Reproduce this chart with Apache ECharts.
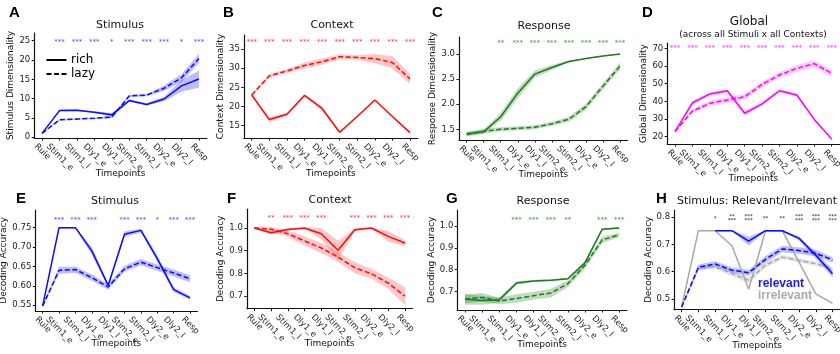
<!DOCTYPE html>
<html>
<head>
<meta charset="utf-8">
<script src="https://cdn.jsdelivr.net/npm/echarts@6/dist/echarts.min.js"></script>
<style>
  html, body { margin: 0; padding: 0; background: #fff; }
  #chart { width: 840px; height: 354px; }
</style>
</head>
<body>
<div id="chart"></div>
<script>
const timepoints = ['Rule', 'Stim1_e', 'Stim1_l', 'Dly1_e', 'Dly1_l', 'Stim2_e', 'Stim2_l', 'Dly2_e', 'Dly2_l', 'Resp']

// A - stimulus dimensionality
const stimDimRich = [1.0, 6.9, 7.0, 6.5, 5.8, 9.5, 8.5, 9.9, 13.3, 15.1]
const stimDimRichErr = [0.1, 0.2, 0.2, 0.2, 0.5, 0.3, 0.3, 0.6, 1.5, 2.2]
const stimDimLazy = [1.0, 4.5, 4.7, 4.9, 5.2, 10.7, 10.9, 12.7, 15.4, 20.4]
const stimDimLazyErr = [0.1, 0.2, 0.2, 0.2, 0.3, 0.3, 0.3, 0.7, 1.0, 1.2]
const stimDimStars = ['', '***', '***', '***', '*', '***', '***', '***', '*', '***']

// B - context dimensionality
const ctxDimRich = [23.0, 16.6, 18.0, 22.9, 19.5, 13.3, 17.4, 21.7, 17.4, 13.2]
const ctxDimRichErr = [0.2, 0.6, 0.4, 0.3, 0.5, 0.3, 0.2, 0.2, 0.2, 0.2]
const ctxDimLazy = [23.0, 28.0, 29.3, 30.7, 31.7, 33.0, 32.8, 32.5, 31.5, 27.2]
const ctxDimLazyErr = [0.3, 0.5, 0.5, 0.8, 0.8, 0.6, 0.6, 1.2, 1.6, 1.3]
const ctxDimStars = ['***', '***', '***', '***', '***', '***', '***', '***', '***', '***']

// C - response dimensionality
const respDimRich = [1.41, 1.45, 1.75, 2.22, 2.60, 2.73, 2.85, 2.91, 2.96, 3.0]
const respDimRichErr = [0.04, 0.04, 0.08, 0.1, 0.07, 0.05, 0.02, 0.01, 0.01, 0.01]
const respDimLazy = [1.40, 1.46, 1.50, 1.52, 1.54, 1.61, 1.70, 1.95, 2.36, 2.76]
const respDimLazyErr = [0.04, 0.05, 0.04, 0.04, 0.04, 0.04, 0.05, 0.06, 0.06, 0.07]
const respDimStars = ['', '', '**', '***', '***', '***', '***', '***', '***', '***']

// D - global dimensionality
const globDimRich = [23.0, 39.2, 44.2, 46.0, 33.3, 38.6, 46.0, 43.6, 29.8, 18.7]
const globDimRichErr = [0.5, 1.2, 1.0, 1.3, 1.2, 1.0, 1.0, 1.0, 0.6, 0.5]
const globDimLazy = [23.0, 34.5, 38.9, 40.8, 42.6, 49.6, 54.9, 58.7, 61.3, 55.9]
const globDimLazyErr = [0.5, 1.0, 1.4, 1.6, 1.6, 1.6, 1.6, 1.8, 2.0, 1.8]
const globDimStars = ['***', '***', '***', '***', '***', '***', '***', '***', '***', '***']

// E - stimulus decoding
const stimDecRich = [0.548, 0.750, 0.750, 0.690, 0.601, 0.733, 0.743, 0.670, 0.590, 0.569]
const stimDecRichErr = [0.002, 0.002, 0.002, 0.010, 0.005, 0.007, 0.005, 0.008, 0.006, 0.005]
const stimDecLazy = [0.548, 0.640, 0.642, 0.621, 0.597, 0.644, 0.661, 0.647, 0.633, 0.618]
const stimDecLazyErr = [0.002, 0.009, 0.008, 0.008, 0.007, 0.008, 0.008, 0.008, 0.009, 0.009]
const stimDecStars = ['', '***', '***', '***', '', '***', '***', '*', '***', '***']

// F - context decoding
const ctxDecRich = [1.0, 0.979, 0.994, 1.0, 0.975, 0.902, 0.992, 1.0, 0.963, 0.934]
const ctxDecRichErr = [0.002, 0.008, 0.005, 0.002, 0.025, 0.042, 0.006, 0.002, 0.025, 0.012]
const ctxDecLazy = [1.0, 0.995, 0.975, 0.943, 0.912, 0.872, 0.825, 0.798, 0.757, 0.699]
const ctxDecLazyErr = [0.003, 0.01, 0.015, 0.02, 0.022, 0.022, 0.025, 0.022, 0.025, 0.04]
const ctxDecStars = ['', '**', '***', '***', '***', '', '***', '***', '***', '***']

// G - response decoding
const respDecRich = [0.663, 0.658, 0.661, 0.738, 0.748, 0.751, 0.758, 0.832, 0.986, 0.992]
const respDecRichErr = [0.025, 0.02, 0.012, 0.008, 0.005, 0.005, 0.005, 0.01, 0.005, 0.004]
const respDecLazy = [0.665, 0.672, 0.655, 0.667, 0.680, 0.692, 0.735, 0.820, 0.937, 0.961]
const respDecLazyErr = [0.02, 0.02, 0.015, 0.02, 0.018, 0.02, 0.015, 0.015, 0.015, 0.01]
const respDecStars = ['', '', '', '***', '***', '***', '**', '', '***', '***']

// H - relevant / irrelevant stimulus decoding
const relRich = [null, null, 0.75, 0.75, 0.712, 0.75, 0.75, 0.722, 0.66, 0.592]
const relRichErr = [0, 0, 0.002, 0.002, 0.016, 0.002, 0.002, 0.008, 0.012, 0.014]
const relLazy = [0.47, 0.616, 0.628, 0.605, 0.596, 0.645, 0.683, 0.677, 0.667, 0.643]
const relLazyErr = [0.002, 0.01, 0.01, 0.01, 0.01, 0.012, 0.012, 0.012, 0.012, 0.01]
const irrRich = [0.47, 0.75, 0.75, 0.695, 0.535, 0.75, 0.75, 0.635, 0.518, 0.483]
const irrRichErr = [0, 0, 0, 0, 0, 0, 0, 0, 0, 0]
const irrLazy = [0.47, 0.611, 0.617, 0.593, 0.568, 0.624, 0.653, 0.641, 0.629, 0.611]
const irrLazyErr = [0.002, 0.008, 0.008, 0.01, 0.012, 0.01, 0.008, 0.008, 0.008, 0.008]
const relStars = ['', '', '*', '**\n***', '***\n***', '**', '**', '***\n***', '***\n***', '***\n***']

const FONT = 'DejaVu Sans'
const BLUE = '#0a0aff'
const RED = '#ff0a0a'
const GREEN = '#1f7a1f'
const MAGENTA = '#ff00ff'
const GRAY = '#a8a8a8'

const grids = []
const xAxes = []
const yAxes = []
const series = []

const measureCtx = document.createElement('canvas').getContext('2d')
function textWidth (s, size) {
  measureCtx.font = size + 'px "' + FONT + '"'
  return measureCtx.measureText(s).width
}

function addPanel (p) {
  const k = grids.length
  grids.push({ left: p.left, top: p.top, width: p.width, height: p.height, outerBoundsMode: 'none' })
  xAxes.push({
    gridIndex: k,
    type: 'value',
    min: -0.45,
    max: 9.45,
    name: 'Timepoints',
    nameLocation: 'middle',
    nameGap: p.xNameGap,
    nameTextStyle: { fontSize: 9, fontFamily: FONT, color: '#111' },
    axisLine: { show: true, onZero: false, lineStyle: { color: '#111', width: 1.2 } },
    axisTick: { show: true, customValues: timepoints.map((t, i) => i), length: 2.5, lineStyle: { color: '#111' } },
    axisLabel: { show: false },
    splitLine: { show: false }
  })
  yAxes.push({
    gridIndex: k,
    type: 'value',
    min: p.yMin,
    max: p.yMax,
    name: p.yName,
    nameLocation: 'middle',
    nameGap: p.yNameGap,
    nameTextStyle: { fontSize: 9, fontFamily: FONT, color: '#111' },
    axisLine: { show: true, onZero: false, lineStyle: { color: '#111', width: 1.2 } },
    axisTick: { show: true, customValues: p.yTicks, length: 2.5, lineStyle: { color: '#111' } },
    axisLabel: {
      customValues: p.yTicks,
      formatter: v => Number(v).toFixed(p.dec),
      fontSize: 8.5,
      fontFamily: FONT,
      color: '#222',
      margin: 4
    },
    splitLine: { show: false }
  })

  p.curves.forEach(c => {
    const pts = c.vals.map((v, i) => v == null ? null : [i, v - c.err[i], v + c.err[i]]).filter(Boolean)
    // shaded error band
    series.push({
      type: 'custom',
      xAxisIndex: k,
      yAxisIndex: k,
      silent: true,
      clip: false,
      data: pts,
      encode: { x: 0, y: [1, 2] },
      renderItem (params, api) {
        if (params.dataIndex !== 0) return
        const up = pts.map(d => api.coord([d[0], d[2]]))
        const lo = pts.map(d => api.coord([d[0], d[1]])).reverse()
        return { type: 'polygon', shape: { points: up.concat(lo) }, style: { fill: c.fill } }
      }
    })
    series.push({
      type: 'line',
      xAxisIndex: k,
      yAxisIndex: k,
      silent: true,
      symbol: 'none',
      data: c.vals.map((v, i) => v == null ? null : [i, v]).filter(Boolean),
      lineStyle: { color: c.color, width: 1.5, type: c.dashed ? [5, 2.5] : 'solid' }
    })
  })

  // significance stars
  series.push({
    type: 'custom',
    xAxisIndex: k,
    yAxisIndex: k,
    silent: true,
    clip: false,
    data: p.stars.map((s, i) => s ? [i, p.starY] : null).filter(Boolean),
    encode: { x: 0, y: 1 },
    renderItem (params, api) {
      const i = api.value(0)
      const c = api.coord([i, api.value(1)])
      return {
        type: 'text',
        x: c[0],
        y: c[1] + 1.5,
        style: {
          text: p.stars[i], fill: p.starColor, fontSize: p.starSize || 7, fontFamily: FONT,
          lineHeight: p.starLine || 8, align: 'center', verticalAlign: 'middle',
          textAlign: 'center', textVerticalAlign: 'middle'
        }
      }
    }
  })

  // rotated tick labels, box centred under each tick
  series.push({
    type: 'custom',
    xAxisIndex: k,
    yAxisIndex: k,
    silent: true,
    clip: false,
    data: timepoints.map((t, i) => [i, p.yMin]),
    encode: { x: 0, y: 1 },
    renderItem (params, api) {
      const i = api.value(0)
      const c = api.coord([i, api.value(1)])
      const w = textWidth(timepoints[i], 8.5)
      const shift = 0.7071 * (w - 10) / 2
      return {
        type: 'text',
        x: c[0] - shift,
        y: c[1] + 4,
        rotation: -Math.PI / 4,
        style: {
          text: timepoints[i], fill: '#222', fontSize: 8.5, fontFamily: FONT,
          align: 'left', verticalAlign: 'top', textAlign: 'left', textVerticalAlign: 'top'
        }
      }
    }
  })
}

const BLUE_FILL = 'rgba(20,20,255,0.28)'
const RED_FILL = 'rgba(255,30,30,0.25)'
const GREEN_FILL = 'rgba(40,140,40,0.3)'
const MAGENTA_FILL = 'rgba(255,0,255,0.22)'
const GRAY_FILL = 'rgba(150,150,150,0.25)'

addPanel({
  left: 34.2, top: 33, width: 172.6, height: 105, yMin: -0.2, yMax: 27.0,
  yTicks: [0, 5, 10, 15, 20, 25], dec: 0, yName: 'Stimulus Dimensionality', yNameGap: 14, xNameGap: 31,
  curves: [
    { vals: stimDimLazy, err: stimDimLazyErr, color: BLUE, fill: BLUE_FILL, dashed: true },
    { vals: stimDimRich, err: stimDimRichErr, color: BLUE, fill: BLUE_FILL }
  ],
  stars: stimDimStars, starY: 25, starColor: '#5050ff'
})
addPanel({
  left: 243.8, top: 35, width: 174.1, height: 103, yMin: 11.8, yMax: 38.65,
  yTicks: [15, 20, 25, 30, 35], dec: 0, yName: 'Context Dimensionality', yNameGap: 13, xNameGap: 31,
  curves: [
    { vals: ctxDimLazy, err: ctxDimLazyErr, color: RED, fill: RED_FILL, dashed: true },
    { vals: ctxDimRich, err: ctxDimRichErr, color: RED, fill: RED_FILL }
  ],
  stars: ctxDimStars, starY: 37.2, starColor: '#ff4040'
})
addPanel({
  left: 459.0, top: 37, width: 168.7, height: 103, yMin: 1.287, yMax: 3.339,
  yTicks: [1.5, 2.0, 2.5, 3.0], dec: 1, yName: 'Response Dimensionality', yNameGap: 16, xNameGap: 30,
  curves: [
    { vals: respDimLazy, err: respDimLazyErr, color: GREEN, fill: GREEN_FILL, dashed: true },
    { vals: respDimRich, err: respDimRichErr, color: GREEN, fill: GREEN_FILL }
  ],
  stars: respDimStars, starY: 3.245, starColor: '#3a9a3a'
})
addPanel({
  left: 667.2, top: 43, width: 172.3, height: 101, yMin: 15.9, yMax: 73.0,
  yTicks: [20, 30, 40, 50, 60, 70], dec: 0, yName: 'Global Dimensionality', yNameGap: 15, xNameGap: 30,
  curves: [
    { vals: globDimLazy, err: globDimLazyErr, color: MAGENTA, fill: MAGENTA_FILL, dashed: true },
    { vals: globDimRich, err: globDimRichErr, color: MAGENTA, fill: MAGENTA_FILL }
  ],
  stars: globDimStars, starY: 70.9, starColor: '#ff30ff'
})
addPanel({
  left: 35.3, top: 210, width: 162.1, height: 101, yMin: 0.535, yMax: 0.7956,
  yTicks: [0.55, 0.60, 0.65, 0.70, 0.75], dec: 2, yName: 'Decoding Accuracy', yNameGap: 19, xNameGap: 28,
  curves: [
    { vals: stimDecLazy, err: stimDecLazyErr, color: BLUE, fill: BLUE_FILL, dashed: true },
    { vals: stimDecRich, err: stimDecRichErr, color: BLUE, fill: BLUE_FILL }
  ],
  stars: stimDecStars, starY: 0.773, starColor: '#5050ff'
})
addPanel({
  left: 246.8, top: 209, width: 165.7, height: 99.7, yMin: 0.644, yMax: 1.084,
  yTicks: [0.7, 0.8, 0.9, 1.0], dec: 1, yName: 'Decoding Accuracy', yNameGap: 15, xNameGap: 30,
  curves: [
    { vals: ctxDecLazy, err: ctxDecLazyErr, color: RED, fill: RED_FILL, dashed: true },
    { vals: ctxDecRich, err: ctxDecRichErr, color: RED, fill: RED_FILL }
  ],
  stars: ctxDecStars, starY: 1.048, starColor: '#ff4040'
})
addPanel({
  left: 457.3, top: 210, width: 169.7, height: 100, yMin: 0.614, yMax: 1.075,
  yTicks: [0.7, 0.8, 0.9, 1.0], dec: 1, yName: 'Decoding Accuracy', yNameGap: 13, xNameGap: 30,
  curves: [
    { vals: respDecLazy, err: respDecLazyErr, color: GREEN, fill: GREEN_FILL, dashed: true },
    { vals: respDecRich, err: respDecRichErr, color: GREEN, fill: GREEN_FILL }
  ],
  stars: respDecStars, starY: 1.035, starColor: '#3a9a3a'
})
addPanel({
  left: 674.1, top: 210, width: 166, height: 99.7, yMin: 0.46, yMax: 0.826,
  yTicks: [0.5, 0.6, 0.7, 0.8], dec: 1, yName: 'Decoding Accuracy', yNameGap: 15, xNameGap: 31,
  curves: [
    { vals: irrLazy, err: irrLazyErr, color: GRAY, fill: GRAY_FILL, dashed: true },
    { vals: irrRich, err: irrRichErr, color: GRAY, fill: GRAY_FILL },
    { vals: relLazy, err: relLazyErr, color: BLUE, fill: BLUE_FILL, dashed: true },
    { vals: relRich, err: relRichErr, color: BLUE, fill: BLUE_FILL }
  ],
  stars: relStars, starY: 0.80, starColor: '#111', starSize: 5.5, starLine: 3.5
})

function label (x, y, text, size, opts) {
  const o = opts || {}
  return {
    type: 'text', x, y, silent: true,
    style: {
      text, fontSize: size, fontFamily: o.family || FONT, fontWeight: o.weight || 'normal', fill: o.color || '#111',
      align: o.align || 'center', verticalAlign: o.valign || 'top',
      textAlign: o.align || 'center', textVerticalAlign: o.valign || 'top'
    }
  }
}
function legendLine (y, dash) {
  return {
    type: 'line', silent: true,
    shape: { x1: 46.5, y1: y, x2: 66.5, y2: y },
    style: { stroke: '#000', lineWidth: 2, lineDash: dash || null }
  }
}
const letter = { family: 'Liberation Sans', weight: 'bold', color: '#000', align: 'left' }

const graphics = [
  label(9, 5, 'A', 15, letter),
  label(223, 5, 'B', 15, letter),
  label(432, 5, 'C', 15, letter),
  label(642, 5, 'D', 15, letter),
  label(16, 191, 'E', 15, letter),
  label(227, 191, 'F', 15, letter),
  label(446, 191, 'G', 15, letter),
  label(656, 191, 'H', 15, letter),
  label(120, 20, 'Stimulus', 11),
  label(332, 20, 'Context', 11),
  label(544, 21, 'Response', 11),
  label(749, 16, 'Global', 12),
  label(753, 30.5, '(across all Stimuli x all Contexts)', 9),
  label(115, 195.5, 'Stimulus', 11),
  label(330, 194.5, 'Context', 11),
  label(543, 195.5, 'Response', 11),
  label(677, 195.5, 'Stimulus: Relevant/Irrelevant', 11, { align: 'left' }),
  label(758, 278, 'relevant', 12, { family: 'Liberation Sans', weight: 'bold', color: '#1a1aff', align: 'left' }),
  label(758, 290, 'irrelevant', 12, { family: 'Liberation Sans', weight: 'bold', color: '#aaaaaa', align: 'left' }),
  // legend of panel A
  legendLine(60),
  legendLine(74, [5, 2.5]),
  label(71, 60, 'rich', 12, { color: '#000', align: 'left', valign: 'middle' }),
  label(71, 74, 'lazy', 12, { color: '#000', align: 'left', valign: 'middle' })
]

const chart = echarts.init(document.getElementById('chart'), null, { renderer: 'canvas' })
chart.setOption({
  animation: false,
  backgroundColor: '#fff',
  grid: grids,
  xAxis: xAxes,
  yAxis: yAxes,
  graphic: graphics,
  series
})
</script>
</body>
</html>
